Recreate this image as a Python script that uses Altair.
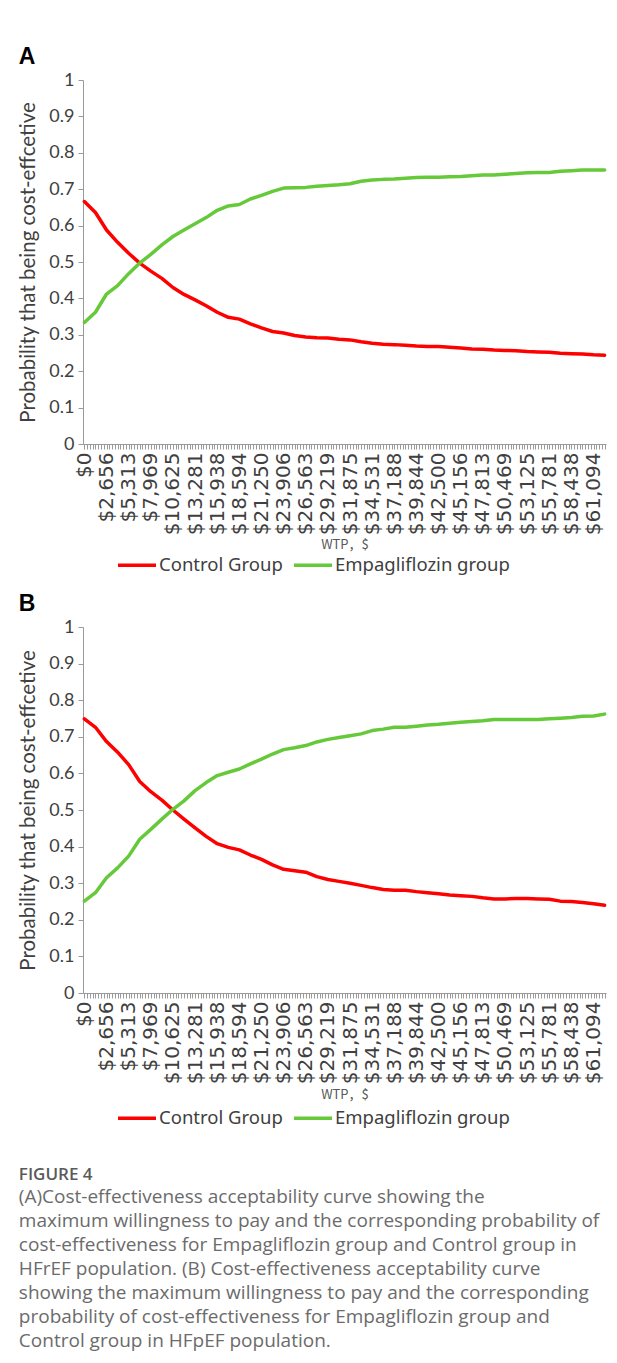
import json
import altair as alt
import pandas as pd

# ---------------- data ----------------
# x axis: category WTP values; one category every STEP dollars, label every 8th category
STEP = 332.03125
N_CATEGORIES = 189
wtp_labels = ["$0", "$2,656", "$5,313", "$7,969", "$10,625", "$13,281", "$15,938",
              "$18,594", "$21,250", "$23,906", "$26,563", "$29,219", "$31,875",
              "$34,531", "$37,188", "$39,844", "$42,500", "$45,156", "$47,813",
              "$50,469", "$53,125", "$55,781", "$58,438", "$61,094"]

# sampled category indices (every 4th category) at which the curves were read
sample_index = list(range(0, 189, 4))

# Panel A (HFrEF)
a_control = [0.666, 0.636, 0.588, 0.554, 0.524, 0.497, 0.475, 0.455, 0.430, 0.411,
             0.396, 0.380, 0.362, 0.348, 0.343, 0.330, 0.319, 0.309, 0.305, 0.298,
             0.294, 0.292, 0.291, 0.288, 0.286, 0.281, 0.277, 0.274, 0.273, 0.271,
             0.269, 0.268, 0.268, 0.266, 0.264, 0.261, 0.260, 0.258, 0.257, 0.256,
             0.254, 0.253, 0.252, 0.249, 0.248, 0.247, 0.245, 0.244]
a_empa = [0.334, 0.362, 0.412, 0.435, 0.468, 0.497, 0.521, 0.547, 0.570, 0.588,
          0.605, 0.622, 0.642, 0.654, 0.658, 0.673, 0.683, 0.694, 0.703, 0.704,
          0.705, 0.708, 0.710, 0.712, 0.715, 0.722, 0.725, 0.727, 0.728, 0.730,
          0.732, 0.733, 0.733, 0.734, 0.735, 0.737, 0.739, 0.739, 0.741, 0.743,
          0.745, 0.746, 0.746, 0.749, 0.751, 0.753, 0.753, 0.753]

# Panel B (HFpEF)
b_control = [0.749, 0.726, 0.687, 0.658, 0.624, 0.578, 0.550, 0.527, 0.500, 0.475,
             0.451, 0.428, 0.408, 0.398, 0.391, 0.377, 0.365, 0.350, 0.338, 0.334,
             0.330, 0.318, 0.310, 0.305, 0.300, 0.294, 0.288, 0.283, 0.281, 0.281,
             0.277, 0.274, 0.271, 0.268, 0.266, 0.264, 0.260, 0.257, 0.257, 0.258,
             0.258, 0.257, 0.256, 0.251, 0.250, 0.247, 0.244, 0.240]
b_empa = [0.251, 0.274, 0.315, 0.342, 0.374, 0.420, 0.447, 0.475, 0.502, 0.525,
          0.553, 0.575, 0.594, 0.603, 0.612, 0.626, 0.639, 0.653, 0.665, 0.670,
          0.676, 0.686, 0.693, 0.698, 0.703, 0.708, 0.717, 0.721, 0.726, 0.726,
          0.729, 0.732, 0.734, 0.737, 0.740, 0.742, 0.744, 0.747, 0.747, 0.747,
          0.747, 0.747, 0.749, 0.751, 0.753, 0.756, 0.757, 0.762]

series_names = ["Control Group", "Empagliflozin group"]
series_colors = ["#FF0000", "#66C93A"]

caption_title = "FIGURE 4"
caption_lines = [
    "(A)Cost-effectiveness acceptability curve showing the",
    "maximum willingness to pay and the corresponding probability of",
    "cost-effectiveness for Empagliflozin group and Control group in",
    "HFrEF population. (B) Cost-effectiveness acceptability curve",
    "showing the maximum willingness to pay and the corresponding",
    "probability of cost-effectiveness for Empagliflozin group and",
    "Control group in HFpEF population.",
]

# ---------------- chart ----------------
FONT = "Lato"
TEXT_COLOR = "#404040"
AXIS_COLOR = "#9a9a9a"

tick_values = [i * STEP for i in range(N_CATEGORIES)]
is_labelled = "round(datum.value / %r) %% 8 == 0" % STEP
label_expr = "(%s) ? %s[round(datum.value / %r / 8)] : ''" % (
    is_labelled, json.dumps(wtp_labels).replace('"', "'"), STEP)


def make_df(control, empa):
    rows = []
    for idx, c, e in zip(sample_index, control, empa):
        rows.append({"wtp": idx * STEP, "group": series_names[0], "p": c})
        rows.append({"wtp": idx * STEP, "group": series_names[1], "p": e})
    return pd.DataFrame(rows)


def panel(letter, control, empa, height, x_title_pad, legend_y):
    df = make_df(control, empa)
    return (
        alt.Chart(
            df,
            title=alt.TitleParams(
                letter, anchor="start", frame="bounds", font="Liberation Sans",
                fontSize=23, fontWeight="bold", color="black", offset=2,
            ),
        )
        .mark_line(strokeWidth=3.5, strokeJoin="round", strokeCap="round")
        .encode(
            x=alt.X(
                "wtp:Q",
                title="WTP，$",
                scale=alt.Scale(domain=[-STEP / 2, (N_CATEGORIES - 0.5) * STEP],
                                nice=False, zero=False),
                axis=alt.Axis(
                    values=tick_values, labelExpr=label_expr, labelAngle=-90,
                    labelAlign="right", labelBaseline="middle",
                    labelOverlap=False, labelFlush=False, labelPadding=3,
                    labelFont="DejaVu Sans",
                    labelFontSize={"condition": {"test": is_labelled, "value": 20},
                                   "value": 0},
                    labelColor=TEXT_COLOR,
                    tickSize=5, tickColor=AXIS_COLOR, domainColor=AXIS_COLOR,
                    grid=False, titleFont="Noto Sans CJK SC", titleFontSize=13,
                    titleFontWeight="normal", titleColor="#595959",
                    titlePadding=x_title_pad,
                ),
            ),
            y=alt.Y(
                "p:Q",
                title="Probability that being cost-effcetive",
                scale=alt.Scale(domain=[0, 1], nice=False),
                axis=alt.Axis(
                    values=[0, 0.1, 0.2, 0.3, 0.4, 0.5, 0.6, 0.7, 0.8, 0.9, 1],
                    format="~g", grid=False, tickSize=5, tickColor=AXIS_COLOR,
                    domainColor=AXIS_COLOR, labelFont=FONT, labelFontSize=18,
                    labelColor=TEXT_COLOR, labelPadding=4, titleFont=FONT,
                    titleFontSize=20.5, titleFontWeight="normal",
                    titleColor=TEXT_COLOR, titlePadding=10,
                ),
            ),
            color=alt.Color(
                "group:N",
                title=None,
                scale=alt.Scale(domain=series_names, range=series_colors),
                legend=alt.Legend(
                    orient="none", legendX=33, legendY=legend_y, direction="horizontal",
                    symbolType="stroke", symbolStrokeWidth=3.5, symbolSize=1444,
                    labelFont="Noto Sans", labelFontSize=18.5, labelColor=TEXT_COLOR,
                    labelOffset=1, columnPadding=4, labelLimit=300,
                ),
            ),
        )
        .properties(width=523, height=height)
    )


chart = (
    alt.vconcat(
        panel("A", a_control, a_empa, 364, 4, 464),
        panel("B", b_control, b_empa, 366, 5, 470),
        spacing=18,
    )
    .resolve_legend(color="independent")
    .properties(
        padding={"left": 10, "top": 38, "right": 0, "bottom": 5},
        title=alt.TitleParams(
            caption_title, subtitle=caption_lines, orient="bottom", anchor="start",
            frame="bounds", font="Open Sans", fontSize=17, fontWeight=600,
            color="#5a5a5a", subtitleFont="Open Sans", subtitleFontSize=19,
            subtitleColor="#6b6b6b", subtitleLineHeight=24, subtitlePadding=4,
            offset=39,
        ),
    )
    .configure_view(strokeWidth=0)
)

chart.save("out.html", embed_options={"renderer": "svg", "actions": False})
